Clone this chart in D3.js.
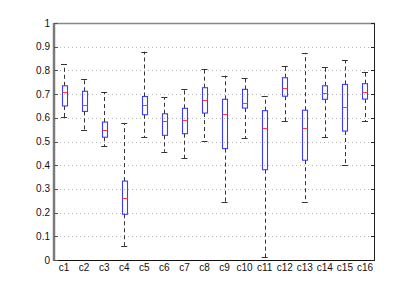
<!DOCTYPE html>
<html><head><meta charset="utf-8">
<script src="https://cdn.jsdelivr.net/npm/d3@7"></script>
<style>html,body{margin:0;padding:0;background:#fff;}svg{display:block;}</style>
</head><body>
<script>
const categories = ["c1","c2","c3","c4","c5","c6","c7","c8","c9","c10","c11","c12","c13","c14","c15","c16"];
const whiskerLow  = [0.602,0.548,0.481,0.060,0.518,0.457,0.429,0.501,0.246,0.515,0.011,0.586,0.246,0.519,0.401,0.586];
const q1          = [0.650,0.627,0.518,0.193,0.613,0.526,0.533,0.620,0.470,0.641,0.381,0.691,0.421,0.678,0.544,0.679];
const medians     = [0.707,0.653,0.550,0.260,0.653,0.588,0.589,0.674,0.617,0.661,0.556,0.726,0.558,0.703,0.644,0.709];
const q3          = [0.735,0.712,0.582,0.333,0.690,0.617,0.640,0.727,0.678,0.720,0.630,0.769,0.632,0.735,0.741,0.744];
const whiskerHigh = [0.826,0.765,0.709,0.577,0.879,0.686,0.723,0.806,0.778,0.769,0.691,0.820,0.872,0.813,0.843,0.793];
const yTicks = [0,0.1,0.2,0.3,0.4,0.5,0.6,0.7,0.8,0.9,1];
const yTickLabels = ["0","0.1","0.2","0.3","0.4","0.5","0.6","0.7","0.8","0.9","1"];

const W = 415, H = 305;
const L = 54, R = 375, T = 23, B = 260;
const svg = d3.select("body").append("svg").attr("width", W).attr("height", H);
const font = "'Liberation Sans', Arial, Helvetica, sans-serif";

const x = d3.scaleLinear().domain([0.5, categories.length + 0.5]).range([L, R]);
const y = d3.scaleLinear().domain([0, 1]).range([B, T]);

// grid
svg.append("g").selectAll("line").data(yTicks.filter(d => d > 0 && d < 1)).join("line")
  .attr("x1", L + 2).attr("x2", R - 2)
  .attr("y1", d => Math.round(y(d)) + 0.5).attr("y2", d => Math.round(y(d)) + 0.5)
  .attr("stroke", "#b8b8b8").attr("stroke-width", 1).attr("stroke-dasharray", "1,3");

const data = categories.map((c, i) => ({c, i: i + 1, lo: whiskerLow[i], q1: q1[i], med: medians[i], q3: q3[i], hi: whiskerHigh[i]}));
const bw = (x(1.5) - x(1)) * 0.5 * 1.0;
const capW = 6;
const px = v => Math.round(v) + 0.5;

const g = svg.append("g");
// whiskers
g.selectAll(".wu").data(data).join("line")
  .attr("x1", d => px(x(d.i))).attr("x2", d => px(x(d.i)))
  .attr("y1", d => y(d.q3)).attr("y2", d => y(d.hi))
  .attr("stroke", "#333").attr("stroke-dasharray", "4,3");
g.selectAll(".wl").data(data).join("line")
  .attr("x1", d => px(x(d.i))).attr("x2", d => px(x(d.i)))
  .attr("y1", d => y(d.q1)).attr("y2", d => y(d.lo))
  .attr("stroke", "#333").attr("stroke-dasharray", "4,3");
// caps
g.selectAll(".ch").data(data).join("line")
  .attr("x1", d => x(d.i) - capW / 2).attr("x2", d => x(d.i) + capW / 2)
  .attr("y1", d => px(y(d.hi))).attr("y2", d => px(y(d.hi)))
  .attr("stroke", "#333");
g.selectAll(".cl").data(data).join("line")
  .attr("x1", d => x(d.i) - capW / 2).attr("x2", d => x(d.i) + capW / 2)
  .attr("y1", d => px(y(d.lo))).attr("y2", d => px(y(d.lo)))
  .attr("stroke", "#333");
// boxes
g.selectAll("rect").data(data).join("rect")
  .attr("x", d => px(x(d.i) - bw / 2)).attr("width", Math.round(bw))
  .attr("y", d => y(d.q3)).attr("height", d => y(d.q1) - y(d.q3))
  .attr("fill", "none").attr("stroke", "#3b3bff").attr("stroke-width", 1.1);
// medians
g.selectAll(".med").data(data).join("line")
  .attr("x1", d => px(x(d.i) - bw / 2)).attr("x2", d => px(x(d.i) - bw / 2) + Math.round(bw))
  .attr("y1", d => px(y(d.med))).attr("y2", d => px(y(d.med)))
  .attr("stroke", "#ff3b3b").attr("stroke-width", 1);

// frame
svg.append("line").attr("x1", L).attr("x2", R).attr("y1", T + 0.5).attr("y2", T + 0.5).attr("stroke", "#888").attr("stroke-width", 1.5);
svg.append("line").attr("x1", R - 0.5).attr("x2", R - 0.5).attr("y1", T).attr("y2", B + 1).attr("stroke", "#222");
svg.append("line").attr("x1", L).attr("x2", R).attr("y1", B + 0.5).attr("y2", B + 0.5).attr("stroke", "#111");
svg.append("line").attr("x1", L).attr("x2", L).attr("y1", T).attr("y2", B + 1).attr("stroke", "#7a7a7a").attr("stroke-width", 2.5);

// right inward ticks
svg.append("g").selectAll("line").data(yTicks).join("line")
  .attr("x1", R - 4).attr("x2", R)
  .attr("y1", d => px(y(d))).attr("y2", d => px(y(d)))
  .attr("stroke", "#222");
// left inward ticks
svg.append("g").selectAll("line").data(yTicks).join("line")
  .attr("x1", L).attr("x2", L + 4)
  .attr("y1", d => px(y(d))).attr("y2", d => px(y(d)))
  .attr("stroke", "#555");

// y labels
svg.append("g").selectAll("text").data(yTicks).join("text")
  .attr("x", L - 4).attr("y", d => y(d) + 3.5)
  .attr("text-anchor", "end").attr("font-family", font).attr("font-size", 10).attr("fill", "#111")
  .text((d, i) => yTickLabels[i]);
// x labels
svg.append("g").selectAll("text").data(data).join("text")
  .attr("x", d => x(d.i)).attr("y", B + 11)
  .attr("text-anchor", "middle").attr("font-family", font).attr("font-size", 10).attr("fill", "#111")
  .text(d => d.c);
</script>
</body></html>
